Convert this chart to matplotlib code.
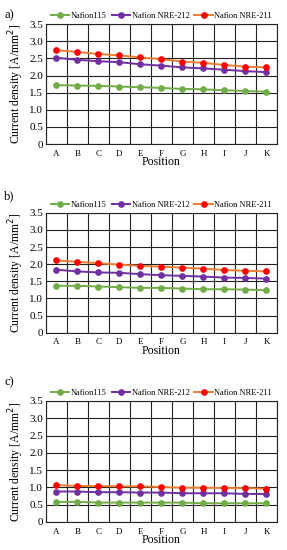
import numpy as np
import matplotlib
matplotlib.use("Agg")
import matplotlib.pyplot as plt
from matplotlib.ticker import FixedLocator, FuncFormatter

plt.rcParams['font.family'] = ['Liberation Serif', 'DejaVu Serif']

positions = ['A', 'B', 'C', 'D', 'E', 'F', 'G', 'H', 'I', 'J', 'K']
series_names = ['Nafion115', 'Nafion NRE-212', 'Nafion NRE-211']

# panel a
a_115 = [1.72, 1.71, 1.70, 1.68, 1.66, 1.64, 1.61, 1.60, 1.57, 1.55, 1.53]
a_212 = [2.52, 2.46, 2.42, 2.39, 2.33, 2.29, 2.24, 2.21, 2.17, 2.13, 2.10]
a_211 = [2.74, 2.69, 2.63, 2.59, 2.53, 2.48, 2.41, 2.37, 2.31, 2.26, 2.24]
# panel b
b_115 = [1.37, 1.37, 1.35, 1.33, 1.31, 1.31, 1.29, 1.27, 1.27, 1.26, 1.24]
b_212 = [1.84, 1.79, 1.76, 1.75, 1.71, 1.68, 1.66, 1.64, 1.61, 1.60, 1.58]
b_211 = [2.11, 2.07, 2.03, 1.99, 1.95, 1.93, 1.90, 1.87, 1.83, 1.81, 1.79]
# panel c
c_115 = [0.58, 0.58, 0.56, 0.56, 0.56, 0.56, 0.56, 0.54, 0.54, 0.54, 0.54]
c_212 = [0.88, 0.88, 0.86, 0.86, 0.85, 0.85, 0.83, 0.83, 0.83, 0.81, 0.81]
c_211 = [1.07, 1.04, 1.04, 1.03, 1.03, 1.01, 0.99, 0.99, 0.98, 0.98, 0.96]

panels = [('a)', [a_115, a_212, a_211]),
          ('b)', [b_115, b_212, b_211]),
          ('c)', [c_115, c_212, c_211])]

line_colors = ['#70ad47', '#7030a0', '#ed7d31']
marker_colors = ['#70ad47', '#7030a0', '#ff0000']

# axes boxes [left, bottom, width, height] in figure fraction
boxes = [[0.160, 0.738, 0.805, 0.218],
         [0.160, 0.395, 0.805, 0.218],
         [0.160, 0.051, 0.805, 0.220]]
# panel label positions (figure fraction)
label_y = [0.972, 0.643, 0.305]

fig = plt.figure(figsize=(2.87, 5.5), dpi=100)
x = np.arange(len(positions))

for (label, data), box, ly in zip(panels, boxes, label_y):
    ax = fig.add_axes(box)
    for vals, name, lc, mc in zip(data, series_names, line_colors, marker_colors):
        ax.plot(x, vals, color=lc, lw=1.4, marker='o', markersize=3.8,
                markerfacecolor=mc, markeredgecolor=mc, label=name, zorder=3)
    ax.set_xlim(-0.5, len(positions) - 0.5)
    ax.set_ylim(0, 3.5)
    ax.set_yticks(np.arange(0, 3.51, 0.5))
    ax.yaxis.set_major_formatter(FuncFormatter(lambda v, p: '0' if v == 0 else f'{v:.1f}'))
    ax.set_xticks(x)
    ax.set_xticklabels(positions)
    ax.xaxis.set_minor_locator(FixedLocator(np.arange(-0.5, len(positions), 1.0)))
    ax.grid(True, axis='y', which='major', color='#222222', lw=0.8)
    ax.grid(True, axis='x', which='minor', color='#222222', lw=0.8)
    ax.tick_params(axis='both', which='both', length=0)
    ax.tick_params(axis='x', labelsize=6.5, pad=4)
    ax.tick_params(axis='y', labelsize=8, pad=2)
    for s in ax.spines.values():
        s.set_color('#222222')
        s.set_linewidth(0.8)
    ax.set_xlabel('Position', fontsize=8.5, labelpad=-1)
    ax.set_ylabel('Current density [A/mm$^2$]', fontsize=8.5, labelpad=2)
    ax.legend(loc='lower center', bbox_to_anchor=(0.5, 1.0), ncol=3, frameon=False,
              fontsize=6, handlelength=2.2, handletextpad=0.2, columnspacing=0.6,
              borderaxespad=0.1)
    fig.text(0.015, ly, label, fontsize=9, va='center', ha='left')

fig.savefig('out.png', dpi=100)
